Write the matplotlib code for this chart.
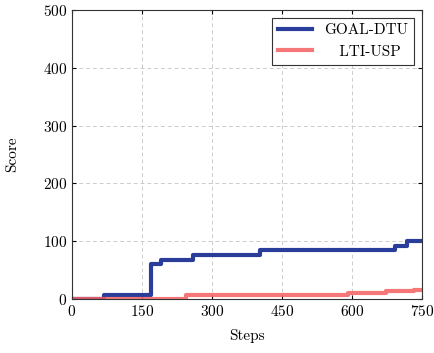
import matplotlib
matplotlib.use("Agg")
import matplotlib.pyplot as plt
import numpy as np

# step change points
goal_steps = [0, 69, 170, 191, 260, 403, 693, 718, 750]
goal_score = [0, 7, 60, 68, 76, 84, 92, 100, 100]

lti_steps = [0, 244, 591, 674, 733, 750]
lti_score = [0, 7, 10, 13, 16, 16]

plt.rcParams["font.family"] = "cmr10"
plt.rcParams["axes.formatter.use_mathtext"] = True
plt.rcParams["mathtext.fontset"] = "cm"

fig = plt.figure(figsize=(4.35, 3.53), dpi=100)
ax = fig.add_axes([0.1655, 0.153, 0.8045, 0.819])

ax.plot(goal_steps, goal_score, drawstyle="steps-post", color="#2B3D9B",
        linewidth=3, label="GOAL-DTU")
ax.plot(lti_steps, lti_score, drawstyle="steps-post", color="#F45F5F",
        linewidth=3, alpha=0.85, label="   LTI-USP")

ax.set_xlim(0, 750)
ax.set_ylim(0, 500)
ax.set_xticks([0, 150, 300, 450, 600, 750])
ax.set_yticks([0, 100, 200, 300, 400, 500])
ax.tick_params(direction="in", labelsize=11, length=3, top=True, right=True)
ax.grid(True, linestyle=(0, (4, 3)), color="#cccccc", linewidth=0.7)
ax.set_xlabel("Steps", fontsize=11, labelpad=7)
ax.set_ylabel("Score", fontsize=11, labelpad=17)
for s in ax.spines.values():
    s.set_color("#333333")
    s.set_linewidth(0.8)

leg = ax.legend(loc="upper right", fontsize=11, fancybox=False, framealpha=1,
                edgecolor="#333333", handlelength=2.2, borderaxespad=0.5)
leg.get_frame().set_linewidth(0.8)

fig.savefig("out.png", dpi=100)
